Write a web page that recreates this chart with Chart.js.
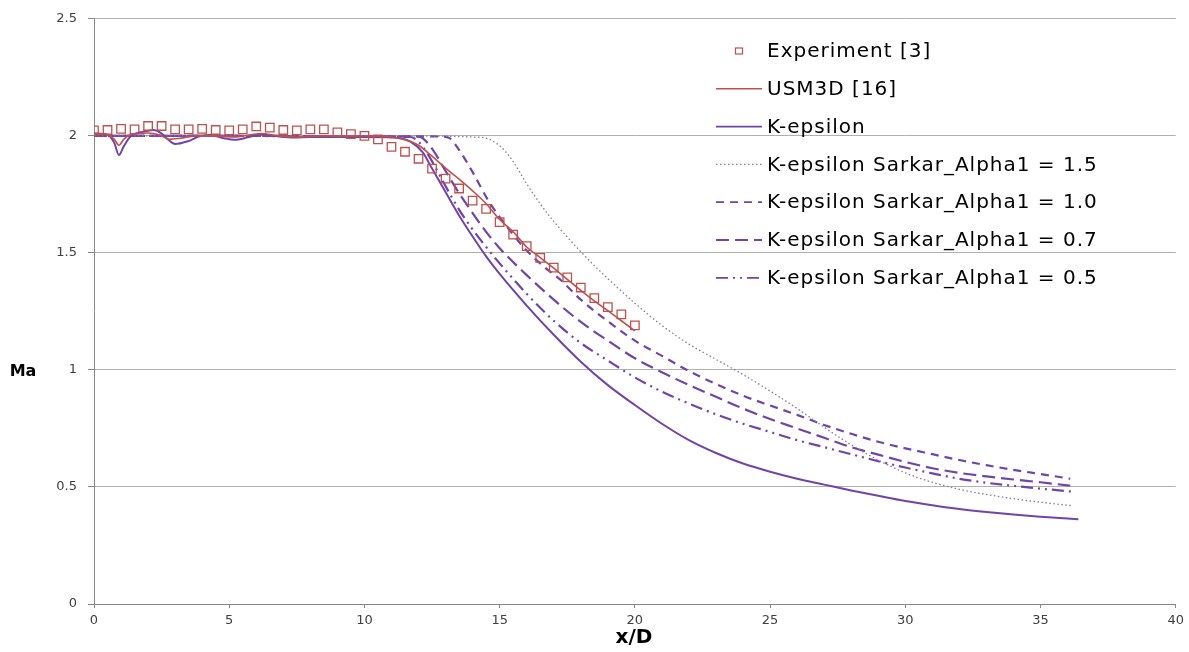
<!DOCTYPE html>
<html>
<head>
<meta charset="utf-8">
<script src="https://cdn.jsdelivr.net/npm/chart.js@4/dist/chart.umd.min.js"></script>
<style>
html, body { margin: 0; padding: 0; background: #fff; }
#wrap { position: relative; width: 1189px; height: 652px; }
</style>
</head>
<body>
<div id="wrap"><canvas id="chart" width="1189" height="652"></canvas></div>
<script>
// Experiment [3] - measured points
const expX = [0, 0.5, 1, 1.5, 2, 2.5, 3, 3.5, 4, 4.5, 5, 5.5, 6, 6.5, 7, 7.5, 8, 8.5, 9, 9.5,
              10, 10.5, 11, 11.5, 12, 12.5, 13, 13.5, 14, 14.5, 15, 15.5, 16, 16.5, 17, 17.5, 18, 18.5, 19, 19.5, 20];
const expY = [2.023, 2.025, 2.03, 2.028, 2.042, 2.042, 2.028, 2.028, 2.03, 2.025, 2.023, 2.028, 2.04, 2.035, 2.025, 2.023, 2.028, 2.028, 2.015, 2.007,
              2.0, 1.985, 1.953, 1.932, 1.902, 1.86, 1.817, 1.775, 1.723, 1.688, 1.631, 1.578, 1.529, 1.479, 1.437, 1.395, 1.352, 1.307, 1.268, 1.237, 1.19];

// USM3D [16]
const usmX = [0, 0.5, 0.75, 0.92, 1.1, 1.35, 2.0, 2.4, 2.8, 3.2, 3.8, 4.5, 5.2, 5.8, 6.2, 6.8, 7.5, 8.5, 10, 11,
              11.5, 12, 12.5, 13, 13.5, 14, 14.5, 15, 15.5, 16, 16.5, 17, 17.5, 18, 18.5, 19, 19.5, 20];
const usmY = [2.01, 2.005, 1.985, 1.96, 1.985, 2.005, 2.012, 2.005, 1.985, 1.99, 2.0, 2.0, 1.995, 2.005, 2.01, 2.0, 1.995, 2.0, 2.0, 1.995,
              1.983, 1.96, 1.913, 1.862, 1.815, 1.765, 1.71, 1.643, 1.59, 1.525, 1.48, 1.435, 1.387, 1.34, 1.295, 1.253, 1.21, 1.167];

// K-epsilon
const keX = [0, 0.5, 0.75, 0.92, 1.1, 1.35, 1.85, 2.2, 2.5, 2.75, 3.0, 3.45, 3.95, 4.3, 4.8, 5.2, 5.7, 6.15, 6.65, 7.4,
             8, 9, 10, 11, 11.3, 11.7, 12.15, 12.5, 13, 13.5, 14, 14.5, 15, 16, 17, 18, 19, 20, 21, 22,
             23, 24, 25, 26, 27, 28, 29, 30, 31, 32, 33, 34, 35, 36, 36.4];
const keY = [2.01, 2.005, 1.97, 1.918, 1.955, 1.997, 2.018, 2.025, 2.01, 1.983, 1.965, 1.976, 2.0, 2.004, 1.99, 1.983, 1.994, 2.006, 2.0, 1.993,
             1.995, 1.995, 1.995, 1.993, 1.99, 1.975, 1.93, 1.86, 1.76, 1.66, 1.57, 1.485, 1.41, 1.275, 1.15, 1.035, 0.935, 0.85, 0.77, 0.70,
             0.645, 0.60, 0.565, 0.535, 0.51, 0.485, 0.462, 0.44, 0.422, 0.406, 0.393, 0.382, 0.373, 0.365, 0.362];

// K-epsilon Sarkar, Alpha1 = 1.5 / 1.0 / 0.7 / 0.5
const s15X = [0, 11, 14, 14.5, 14.86, 15.2, 15.5, 16, 16.5, 17, 18, 19, 20, 21, 22, 23, 24, 25, 26, 27, 28, 29, 30, 31, 32, 33, 34, 35, 36, 36.2];
const s15Y = [2.0, 2.0, 1.995, 1.99, 1.97, 1.935, 1.89, 1.795, 1.71, 1.635, 1.505, 1.39, 1.285, 1.19, 1.11, 1.045, 0.98, 0.91, 0.835, 0.755,
              0.68, 0.615, 0.56, 0.52, 0.49, 0.468, 0.45, 0.435, 0.422, 0.42];

const s10X = [0, 12.9, 13.15, 13.5, 14, 14.6, 15.35, 16, 16.7, 17.2, 18, 19, 20, 21, 22, 23, 24, 25, 26, 27, 28, 29, 30, 31, 32, 33, 34, 35, 36, 36.1];
const s10Y = [2.0, 1.997, 1.99, 1.94, 1.845, 1.72, 1.6, 1.51, 1.435, 1.39, 1.3, 1.208, 1.125, 1.06, 0.995, 0.94, 0.89, 0.848, 0.808, 0.765,
              0.727, 0.693, 0.665, 0.64, 0.615, 0.593, 0.573, 0.555, 0.537, 0.535];

const s07X = [0, 12.0, 12.15, 12.5, 13, 13.5, 14, 14.5, 15, 16, 17, 18, 19, 20, 21, 22, 23, 24, 25, 26, 27, 28, 29, 30, 31, 32, 33, 34, 35, 36, 36.1];
const s07Y = [2.0, 1.997, 1.99, 1.945, 1.85, 1.755, 1.67, 1.59, 1.52, 1.405, 1.3, 1.205, 1.125, 1.05, 0.99, 0.935, 0.885, 0.835, 0.79, 0.75,
              0.71, 0.67, 0.638, 0.607, 0.58, 0.56, 0.545, 0.532, 0.52, 0.507, 0.506];

const s05X = [0, 11.7, 12.0, 12.3, 12.65, 13, 13.5, 14, 14.5, 15, 16, 17, 18, 19, 20, 21, 22, 23, 24, 25, 26, 27, 28, 29, 30, 31, 32, 33, 34, 35, 36, 36.2];
const s05Y = [2.0, 1.995, 1.975, 1.93, 1.86, 1.785, 1.685, 1.6, 1.525, 1.455, 1.325, 1.21, 1.115, 1.04, 0.968, 0.907, 0.856, 0.81, 0.77, 0.735,
              0.70, 0.67, 0.64, 0.61, 0.583, 0.558, 0.535, 0.518, 0.505, 0.493, 0.482, 0.48];

const xTicks = [0, 5, 10, 15, 20, 25, 30, 35, 40];
const yTicks = [0, 0.5, 1, 1.5, 2, 2.5];

const RED = '#c0504d';
const PURPLE = '#7044a8';

function pts(xs, ys) {
    return xs.map((x, i) => ({ x: x, y: ys[i] }));
}

function lineSet(label, xs, ys, color, width, dash) {
    return {
        label: label,
        data: pts(xs, ys),
        showLine: true,
        borderColor: color,
        backgroundColor: color,
        borderWidth: width,
        borderDash: dash,
        pointRadius: 0,
        cubicInterpolationMode: 'monotone',
        fill: false
    };
}

const datasets = [
    {
        label: 'Experiment [3]',
        data: pts(expX, expY),
        showLine: false,
        pointStyle: 'rect',
        pointRadius: 6,
        borderColor: RED,
        borderWidth: 1.3,
        backgroundColor: 'rgba(255,255,255,0)'
    },
    lineSet('USM3D [16]', usmX, usmY, RED, 1.6, []),
    lineSet('K-epsilon', keX, keY, PURPLE, 2, []),
    lineSet('K-epsilon Sarkar_Alpha1 = 1.5', s15X, s15Y, '#85799c', 1.3, [1.5, 2.5]),
    lineSet('K-epsilon Sarkar_Alpha1 = 1.0', s10X, s10Y, PURPLE, 2.2, [8, 6]),
    lineSet('K-epsilon Sarkar_Alpha1 = 0.7', s07X, s07Y, PURPLE, 2.2, [13, 6]),
    lineSet('K-epsilon Sarkar_Alpha1 = 0.5', s05X, s05Y, PURPLE, 2.2, [12, 5, 2, 5, 2, 5])
];

// legend inside the plot + axis titles
const overlayPlugin = {
    id: 'overlay',
    afterDraw(chart) {
        const ctx = chart.ctx;
        ctx.save();
        ctx.textBaseline = 'middle';
        ctx.fillStyle = '#000';
        ctx.font = '20px "DejaVu Sans"';
        if ('letterSpacing' in ctx) ctx.letterSpacing = '1px';
        chart.data.datasets.forEach((ds, i) => {
            const y = 51 + i * 37.8;
            ctx.save();
            ctx.strokeStyle = ds.borderColor;
            if (ds.showLine === false) {
                ctx.lineWidth = 1.2;
                ctx.strokeRect(735.5, y - 3, 7, 6);
            } else {
                ctx.lineWidth = Math.min(ds.borderWidth, 1.8);
                ctx.setLineDash(ds.borderDash);
                ctx.beginPath();
                ctx.moveTo(716, y);
                ctx.lineTo(762, y);
                ctx.stroke();
            }
            ctx.restore();
            ctx.fillText(ds.label, 767, y + 1);
        });
        if ('letterSpacing' in ctx) ctx.letterSpacing = '0px';
        ctx.textAlign = 'center';
        ctx.font = 'bold 16px "DejaVu Sans"';
        ctx.fillText('Ma', 23, 372);
        ctx.font = 'bold 20px "DejaVu Sans"';
        ctx.fillText('x/D', 634, 638);
        ctx.restore();
    }
};

new Chart(document.getElementById('chart').getContext('2d'), {
    type: 'scatter',
    data: { datasets: datasets },
    options: {
        responsive: false,
        animation: false,
        layout: { padding: { top: 14, right: 11, left: 0, bottom: 0 } },
        plugins: {
            legend: { display: false },
            tooltip: { enabled: false }
        },
        scales: {
            x: {
                type: 'linear',
                min: 0,
                max: 40,
                afterBuildTicks: (scale) => { scale.ticks = xTicks.map(v => ({ value: v })); },
                afterFit: (scale) => { scale.height = 48; },
                grid: { drawOnChartArea: false, drawTicks: true, tickLength: 4, color: '#868686' },
                border: { display: true, color: '#868686', width: 1 },
                ticks: { color: '#404040', font: { family: 'DejaVu Sans', size: 13 }, padding: 5, maxRotation: 0,
                         callback: (v) => String(v) }
            },
            y: {
                type: 'linear',
                min: 0,
                max: 2.5,
                afterBuildTicks: (scale) => { scale.ticks = yTicks.map(v => ({ value: v })); },
                afterFit: (scale) => { scale.width = 94; },
                grid: { color: '#b0b0b0', tickColor: '#868686', tickLength: 6, lineWidth: 1 },
                border: { display: true, color: '#868686', width: 1 },
                ticks: { color: '#404040', font: { family: 'DejaVu Sans', size: 13 }, padding: 11,
                         callback: (v) => String(v) }
            }
        }
    },
    plugins: [overlayPlugin]
});
</script>
</body>
</html>
